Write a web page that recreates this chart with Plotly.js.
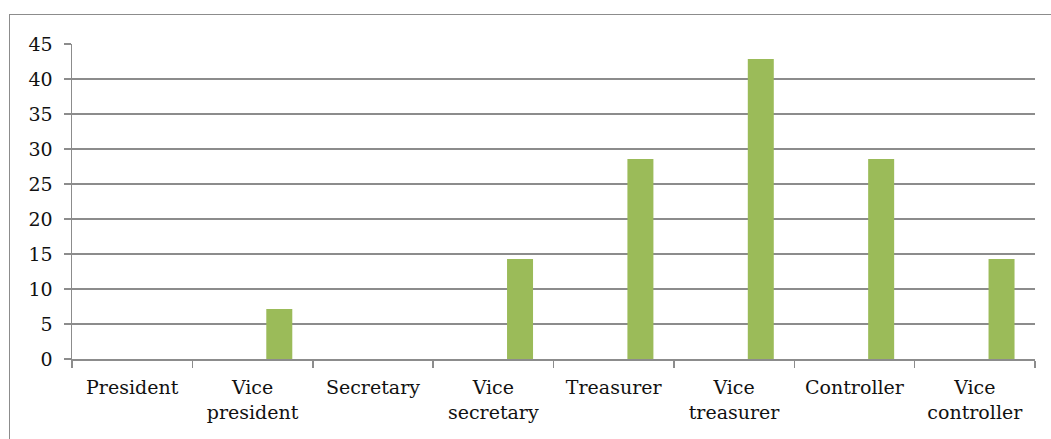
<!DOCTYPE html>
<html>
<head>
<meta charset="utf-8">
<script src="https://cdn.plot.ly/plotly-3.0.1.min.js"></script>
<style>
html,body{margin:0;padding:0;background:#fff;}
#wrap{position:relative;width:1051px;height:439px;}
#chart{position:absolute;left:0;top:0;width:1051px;height:439px;}
#frame{position:absolute;left:9px;top:14px;width:1060px;height:440px;border:1.5px solid #8c8c8c;pointer-events:none;}
</style>
</head>
<body>
<div id="wrap">
<div id="chart"></div>
<div id="frame"></div>
</div>
<script>
const categories = ["President","Vice<br>president","Secretary","Vice<br>secretary","Treasurer","Vice<br>treasurer","Controller","Vice<br>controller"];
const values = [0, 7.14, 0, 14.29, 28.57, 42.86, 28.57, 14.29];
const yTicks = [0,5,10,15,20,25,30,35,40,45];

const fontFam = "DejaVu Serif, serif";
const trace = {
  type: "bar",
  x: categories,
  y: values,
  width: 0.216,
  offset: 0.114,
  marker: {color: "#9BBB59"},
  hoverinfo: "x+y"
};
const layout = {
  width: 1051, height: 439,
  margin: {l: 72, r: 16, t: 43.5, b: 80, pad: 0},
  paper_bgcolor: "rgba(0,0,0,0)",
  plot_bgcolor: "#fff",
  showlegend: false,
  font: {family: fontFam, size: 19, color: "#111"},
  xaxis: {
    type: "category",
    showgrid: false,
    showline: true, linecolor: "#8c8c8c", linewidth: 1.5,
    ticks: "outside", tickson: "boundaries", ticklen: 7, tickcolor: "#8c8c8c", tickwidth: 1.5,
    ticklabelstandoff: 11,
    zeroline: false
  },
  yaxis: {
    range: [0, 45],
    tickvals: yTicks,
    ticktext: yTicks.map(String),
    showgrid: true, gridcolor: "#8c8c8c", gridwidth: 1.5,
    showline: true, linecolor: "#8c8c8c", linewidth: 1.5,
    ticks: "outside", ticklen: 7, tickcolor: "#8c8c8c", tickwidth: 1.5,
    ticklabelstandoff: 7,
    zeroline: false
  }
};
Plotly.newPlot("chart", [trace], layout, {displayModeBar: false, staticPlot: true});
</script>
</body>
</html>
